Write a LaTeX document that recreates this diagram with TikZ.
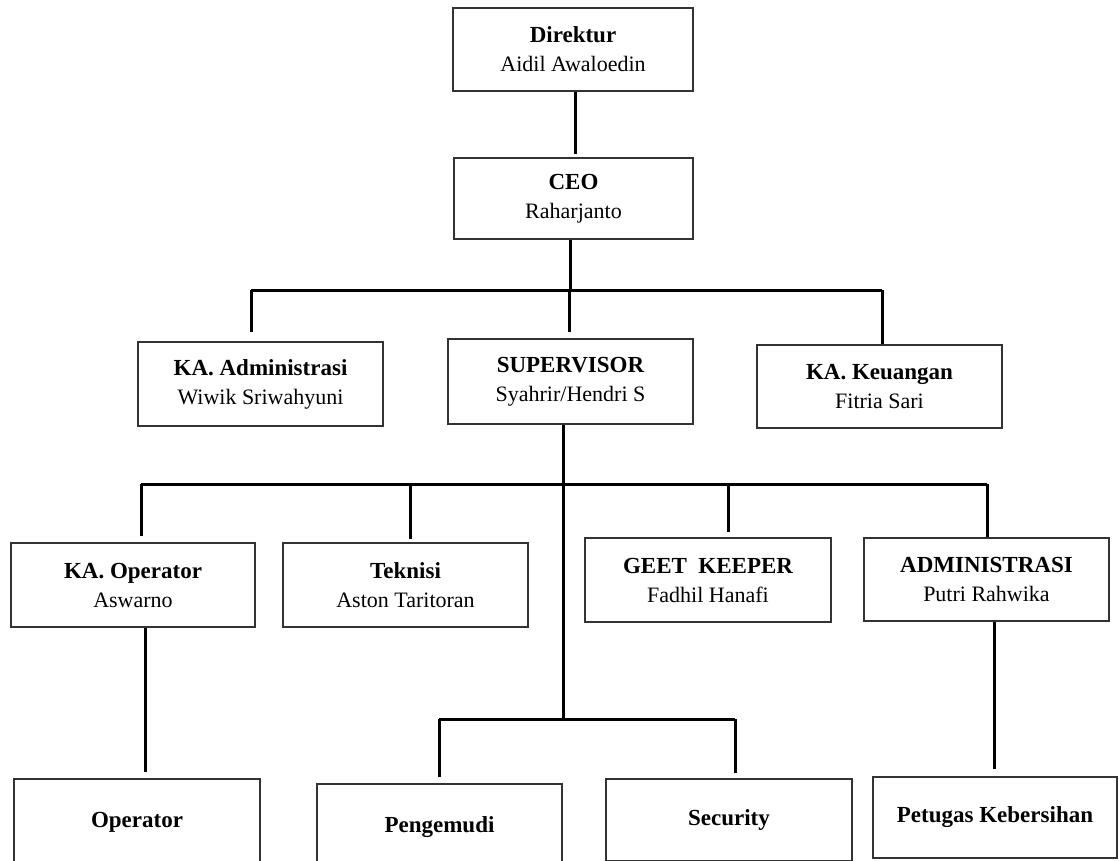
\documentclass[tikz,border=0pt]{standalone}
\usepackage{fontspec}
\setmainfont{Liberation Serif}
\newcommand{\hd}[1]{{\fontsize{23}{29}\selectfont\bfseries #1}}
\begin{document}
\begin{tikzpicture}[x=1pt,y=-1pt,
  orgbox/.style={draw=black!80, line width=2pt, fill=white, inner sep=0pt,
    align=center, minimum width=#1, font=\fontsize{22}{29}\selectfont},
  orgbox/.default=245,
  conn/.style={draw=black, line width=3pt, line cap=butt}]
\useasboundingbox (0,0) rectangle (1119,861);
\clip (0,0) rectangle (1119,861);
% boxes
\node[orgbox=240, minimum height=83] (DIR) at (573,49.5) {\hd{Direktur}\\Aidil Awaloedin};
\node[orgbox=239, minimum height=81] (CEO) at (573.5,198.5) {\hd{CEO}\\Raharjanto};
\node[orgbox, minimum height=84] (KAadm) at (260.5,384) {\hd{KA. Administrasi}\\Wiwik Sriwahyuni};
\node[orgbox, minimum height=85] (SUP) at (570.5,381.5) {\hd{SUPERVISOR}\\Syahrir/Hendri S};
\node[orgbox, minimum height=83] (KAkeu) at (879.5,386.5) {\hd{KA. Keuangan}\\Fitria Sari};
\node[orgbox=244, minimum height=84] (KAop) at (133,585) {\hd{KA. Operator}\\Aswarno};
\node[orgbox, minimum height=84] (TEK) at (405.5,585) {\hd{Teknisi}\\Aston Taritoran};
\node[orgbox=246, minimum height=84] (GEET) at (708,580) {\hd{GEET\ \ KEEPER}\\Fadhil Hanafi};
\node[orgbox, minimum height=83] (ADM) at (986.5,579.5) {\hd{ADMINISTRASI}\\Putri Rahwika};
\node[orgbox=246, minimum height=86] (OPR) at (137,822) {\hd{Operator}};
\node[orgbox, minimum height=86] (PNG) at (439.5,827) {\hd{Pengemudi}};
\node[orgbox=246, minimum height=82] (SEC) at (729,820) {\hd{Security}};
\node[orgbox=244, minimum height=81] (PTG) at (995,817.5) {\hd{Petugas Kebersihan}};
% junction coordinates
\coordinate (d0) at (575,0);
\coordinate (a0) at (570,290);
\coordinate (a1) at (251,290);
\coordinate (a2) at (882,290);
\coordinate (s0) at (569,0);
\coordinate (b0) at (563,484);
\coordinate (b1) at (141,484);
\coordinate (b2) at (410,484);
\coordinate (b3) at (728,484);
\coordinate (b4) at (987,484);
\coordinate (c0) at (563,719);
\coordinate (c1) at (439,719);
\coordinate (c2) at (735,719);
\coordinate (e1) at (145,0);
\coordinate (e2) at (994,0);
% connectors
\draw[conn, shorten >=3pt] (DIR.south -| d0) -- (CEO.north -| d0);
\draw[conn] (CEO.south -| a0) -- (a0);
\draw[conn, shorten >=6pt] (a0 -| s0) -- (SUP.north -| s0);
\draw[conn] (a1) -- (a2);
\draw[conn, shorten >=9pt] (a1) -- (a1 |- KAadm.north);
\draw[conn] (a2) -- (a2 |- KAkeu.north);
\draw[conn] (SUP.south -| c0) -- (c0);
\draw[conn] (b1) -- (b4);
\draw[conn, shorten >=6pt] (b1) -- (b1 |- KAop.north);
\draw[conn, shorten >=3pt] (b2) -- (b2 |- TEK.north);
\draw[conn, shorten >=5pt] (b3) -- (b3 |- GEET.north);
\draw[conn] (b4) -- (b4 |- ADM.north);
\draw[conn] (c1) -- (c2);
\draw[conn, shorten >=6pt] (c1) -- (c1 |- PNG.north);
\draw[conn, shorten >=5pt] (c2) -- (c2 |- SEC.north);
\draw[conn, shorten >=6pt] (KAop.south -| e1) -- (OPR.north -| e1);
\draw[conn, shorten >=7pt] (ADM.south -| e2) -- (PTG.north -| e2);
\end{tikzpicture}
\end{document}
